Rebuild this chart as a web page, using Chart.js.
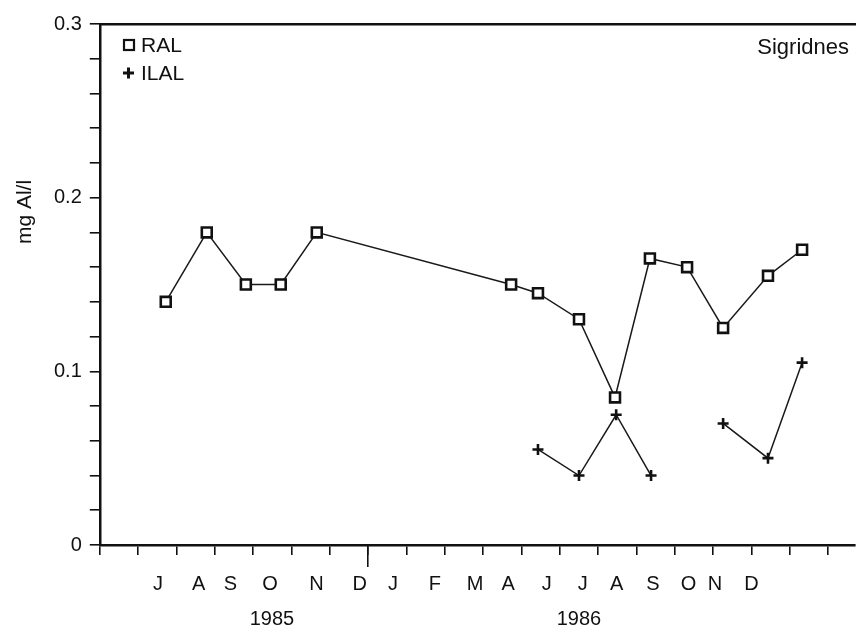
<!DOCTYPE html>
<html>
<head>
<meta charset="utf-8">
<script src="https://cdn.jsdelivr.net/npm/chart.js@4"></script>
<style>
    body { margin: 0; background: #fff; }
    #wrap { width: 857px; height: 630px; position: relative; }
</style>
</head>
<body>
<div id="wrap"><canvas id="grafico"></canvas></div>
<script>
// x in months counted from 1 June 1985 (0 = start of June 1985, 7 = 1 Jan 1986)
const ralX = [1.72, 2.79, 3.81, 4.72, 5.66, 10.73, 11.43, 12.5, 13.44, 14.35, 15.32, 16.26, 17.43, 18.32];
const ralVal = [0.14, 0.18, 0.15, 0.15, 0.18, 0.15, 0.145, 0.13, 0.085, 0.165, 0.16, 0.125, 0.155, 0.17];

const ilalX = [11.43, 12.5, 13.47, 14.38, 15.3, 16.26, 17.43, 18.32];
const ilalVal = [0.055, 0.04, 0.075, 0.04, null, 0.07, 0.05, 0.105];

const monthTicks = [0, 1, 2, 3, 4, 5, 6, 7, 8, 9, 10, 11, 12, 13, 14, 15, 16, 17, 18, 19];
const yearTick = [7];
const monthLabels = ['J', 'A', 'S', 'O', 'N', 'D', 'J', 'F', 'M', 'A', 'J', 'J', 'A', 'S', 'O', 'N', 'D'];
const monthLabelPos = [1.52, 2.58, 3.41, 4.44, 5.65, 6.78, 7.65, 8.74, 9.79, 10.65, 11.66, 12.6, 13.48, 14.43, 15.36, 16.05, 17.0];
const yearLabels = ['1985', '1986'];
const yearLabelPos = [4.49, 12.5];

const xMax = 19.7;
const fonte = 'Liberation Sans, Arial, sans-serif';

function pontos(xs, ys) {
    let lista = [];
    for (let i = 0; i < xs.length; i++) {
        lista.push({ x: xs[i], y: ys[i] });
    }
    return lista;
}

function eixoX(extra) {
    return Object.assign({
        type: 'linear',
        min: 0,
        max: xMax,
        position: { y: 0 },
        grid: { display: false, drawTicks: false },
        border: { display: false },
        ticks: { display: false }
    }, extra);
}

const decoracao = {
    id: 'decoracao',
    afterDraw(chart) {
        const ctx = chart.ctx;
        ctx.save();
        ctx.fillStyle = '#111';
        ctx.strokeStyle = '#111';

        // legenda
        ctx.font = '21px ' + fonte;
        ctx.textBaseline = 'middle';
        ctx.lineWidth = 2.2;
        ctx.strokeRect(124, 40, 10, 10);
        ctx.fillText('RAL', 141, 46);
        ctx.lineWidth = 3;
        ctx.beginPath();
        ctx.moveTo(123, 73); ctx.lineTo(134, 73);
        ctx.moveTo(128.5, 67.5); ctx.lineTo(128.5, 78.5);
        ctx.stroke();
        ctx.fillText('ILAL', 141, 74);

        ctx.font = '22px ' + fonte;
        ctx.textAlign = 'right';
        ctx.fillText('Sigridnes', 849, 48);

        // titulo do eixo y
        ctx.translate(25, 212);
        ctx.rotate(-Math.PI / 2);
        ctx.textAlign = 'center';
        ctx.font = '21px ' + fonte;
        ctx.fillText('mg Al/l', 0, 0);
        ctx.restore();
    }
};

new Chart(document.getElementById('grafico'), {
    type: 'line',
    data: {
        datasets: [{
            label: 'RAL',
            data: pontos(ralX, ralVal),
            borderColor: '#1a1a1a',
            borderWidth: 1.5,
            pointStyle: 'rect',
            pointRadius: 7,
            pointBorderWidth: 2.6,
            pointBackgroundColor: '#fff',
            pointBorderColor: '#111'
        }, {
            label: 'ILAL',
            data: pontos(ilalX, ilalVal),
            borderColor: '#1a1a1a',
            borderWidth: 1.5,
            spanGaps: false,
            pointStyle: 'cross',
            pointRadius: 5.5,
            pointBorderWidth: 2.6,
            pointBorderColor: '#111'
        }]
    },
    options: {
        responsive: true,
        maintainAspectRatio: false,
        animation: false,
        layout: {
            autoPadding: false,
            padding: { left: 46, right: 2, top: 24, bottom: 75 }
        },
        plugins: {
            legend: { display: false },
            tooltip: { enabled: false }
        },
        scales: {
            x: {
                type: 'linear',
                min: 0,
                max: xMax,
                position: 'bottom',
                afterBuildTicks: function (eixo) {
                    eixo.ticks = monthTicks.map(function (v) { return { value: v }; });
                },
                ticks: { display: false },
                grid: { drawOnChartArea: false, drawTicks: true, tickLength: 10, color: '#111', lineWidth: 1.6 },
                border: { color: '#111', width: 2.5 }
            },
            xLong: eixoX({
                afterBuildTicks: function (eixo) {
                    eixo.ticks = yearTick.map(function (v) { return { value: v }; });
                },
                grid: { display: true, drawOnChartArea: false, drawTicks: true, tickLength: 22, color: '#111', lineWidth: 1.6 }
            }),
            xMonth: eixoX({
                afterBuildTicks: function (eixo) {
                    eixo.ticks = monthLabelPos.map(function (v) { return { value: v }; });
                },
                ticks: {
                    display: true,
                    autoSkip: false,
                    maxRotation: 0,
                    padding: 27,
                    color: '#111',
                    font: { family: fonte, size: 20 },
                    callback: function (v, i) { return monthLabels[i]; }
                }
            }),
            xYear: eixoX({
                afterBuildTicks: function (eixo) {
                    eixo.ticks = yearLabelPos.map(function (v) { return { value: v }; });
                },
                ticks: {
                    display: true,
                    autoSkip: false,
                    maxRotation: 0,
                    padding: 62,
                    color: '#111',
                    font: { family: fonte, size: 20 },
                    callback: function (v, i) { return yearLabels[i]; }
                }
            }),
            xTop: {
                type: 'linear',
                min: 0,
                max: xMax,
                position: 'top',
                ticks: { display: false },
                grid: { display: false, drawTicks: false },
                border: { color: '#111', width: 2.5 }
            },
            y: {
                type: 'linear',
                min: 0,
                max: 0.3,
                position: 'left',
                ticks: {
                    stepSize: 0.02,
                    padding: 8,
                    color: '#111',
                    autoSkip: false,
                    font: { family: fonte, size: 20 },
                    callback: function (v) {
                        let d = v * 10;
                        if (Math.abs(d - Math.round(d)) > 0.001) return '';
                        return v === 0 ? '0' : v.toFixed(1);
                    }
                },
                grid: { drawOnChartArea: false, tickLength: 10, color: '#111', lineWidth: 1.6 },
                border: { color: '#111', width: 2.5 }
            }
        }
    },
    plugins: [decoracao]
});
</script>
</body>
</html>
